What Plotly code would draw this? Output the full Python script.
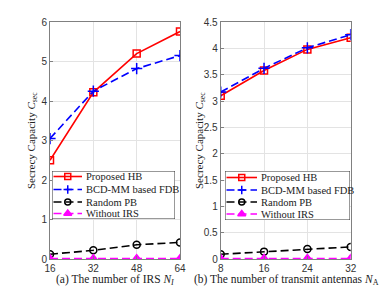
import plotly.graph_objects as go

# Data
irs_n = [16, 32, 48, 64]
hb_a = [2.5, 4.22, 5.2, 5.76]
fdb_a = [3.05, 4.25, 4.82, 5.15]
rpb_a = [0.12, 0.22, 0.36, 0.42]
noirs_a = [0.01, 0.01, 0.01, 0.01]

ant_n = [8, 16, 24, 32]
hb_b = [3.1, 3.58, 3.98, 4.2]
fdb_b = [3.17, 3.62, 4.01, 4.26]
rpb_b = [0.09, 0.14, 0.19, 0.23]
noirs_b = [0.01, 0.01, 0.01, 0.01]

names = ["Proposed HB", "BCD-MM based FDB", "Random PB", "Without IRS"]
styles = [
    dict(color="#ff0000", dash="solid", symbol="square-open", msize=7, lsize=6),
    dict(color="#0000ff", dash="8px,4px", symbol="cross-thin-open", msize=8, lsize=6),
    dict(color="#000000", dash="8px,4px", symbol="circle-open", msize=7, lsize=6),
    dict(color="#ff00ff", dash="8px,4px", symbol="triangle-up", msize=8, lsize=7),
]

# page body has an 8px default margin: figure is placed at (8, 8)
OFF = 8
W, H = 388 - OFF, 291 - OFF
def px(x): return (x - OFF) / W
def py(y): return 1 - (y - OFF) / H

SERIF = "Liberation Serif, Times New Roman, serif"
TXT = "#222222"

fig = go.Figure()
for xs, ser, xa, ya in [(irs_n, [hb_a, fdb_a, rpb_a, noirs_a], "x", "y"),
                        (ant_n, [hb_b, fdb_b, rpb_b, noirs_b], "x2", "y2")]:
    for name, ys, st in zip(names, ser, styles):
        fig.add_trace(go.Scatter(
            x=xs, y=ys, name=name, xaxis=xa, yaxis=ya, showlegend=False,
            mode="lines+markers",
            line=dict(color=st["color"], dash=st["dash"], width=1.6),
            marker=dict(symbol=st["symbol"], size=st["msize"], color=st["color"],
                        line=dict(color=st["color"], width=1.5)),
        ))

# Custom compact legends (legend-key geometry in pixel units of an overlay axis)
annotations = []
def add_legend(xa, ya, box_w, box_h, key_w, row_y, text_x):
    fig.add_trace(go.Scatter(x=[0, box_w, box_w, 0, 0], y=[0, 0, box_h, box_h, 0],
                             xaxis=xa, yaxis=ya, mode="lines", fill="toself",
                             fillcolor="white", line=dict(color="#333333", width=1),
                             showlegend=False, hoverinfo="skip"))
    for name, st, ry in zip(names, styles, row_y):
        fig.add_trace(go.Scatter(x=[1.5, key_w], y=[ry, ry], xaxis=xa, yaxis=ya, mode="lines",
                                 line=dict(color=st["color"], dash=st["dash"], width=1.6),
                                 showlegend=False, hoverinfo="skip"))
        fig.add_trace(go.Scatter(x=[(1.5 + key_w) / 2], y=[ry], xaxis=xa, yaxis=ya, mode="markers",
                                 marker=dict(symbol=st["symbol"], size=st["lsize"], color=st["color"],
                                             line=dict(color=st["color"], width=1.5)),
                                 showlegend=False, hoverinfo="skip"))
        annotations.append(dict(text=name, x=text_x, y=ry, xref=xa, yref=ya, xanchor="left",
                                yanchor="middle", showarrow=False,
                                font=dict(family=SERIF, size=10.5, color=TXT)))

add_legend("x3", "y3", 123, 48, 30, [5.5, 18.5, 31, 42.5], 32)
add_legend("x4", "y4", 125, 49, 32, [6.5, 19, 31, 43], 34)

axis_common = dict(showline=True, mirror=True, linecolor="#808080", linewidth=1,
                   showgrid=True, gridcolor="#e3e3e3", gridwidth=1, ticks="inside",
                   ticklen=3, tickcolor="#808080", zeroline=False,
                   tickfont=dict(family="Liberation Sans, Arial", size=10, color="#333333"))
hidden = dict(visible=False, showgrid=False, zeroline=False, fixedrange=True)

def label(text, x, y, angle=0, size=11):
    return dict(text=text, x=px(x), y=py(y), xref="paper", yref="paper",
                xanchor="center", yanchor="middle", textangle=angle, showarrow=False,
                font=dict(family=SERIF, size=size, color=TXT))

fig.update_layout(
    width=W, height=H, margin=dict(l=0, r=0, t=0, b=0, autoexpand=False),
    paper_bgcolor="white", plot_bgcolor="rgba(0,0,0,0)", showlegend=False,
    xaxis=dict(domain=[px(50), px(180)], range=[16, 64], tickvals=irs_n, anchor="y", **axis_common),
    yaxis=dict(domain=[py(259), py(22)], range=[0, 6], tickvals=[0, 1, 2, 3, 4, 5, 6], anchor="x", **axis_common),
    xaxis2=dict(domain=[px(220.7), px(350.7)], range=[8, 32], tickvals=ant_n, anchor="y2", **axis_common),
    yaxis2=dict(domain=[py(259), py(22)], range=[0, 4.5], tickvals=[0, 0.5, 1, 1.5, 2, 2.5, 3, 3.5, 4, 4.5],
                ticktext=["0", "0.5", "1", "1.5", "2", "2.5", "3", "3.5", "4", "4.5"], anchor="x2", **axis_common),
    xaxis3=dict(domain=[px(52), px(175)], range=[0, 123], anchor="y3", **hidden),
    yaxis3=dict(domain=[py(219), py(171)], range=[48, 0], anchor="x3", **hidden),
    xaxis4=dict(domain=[px(225), px(350)], range=[0, 125], anchor="y4", **hidden),
    yaxis4=dict(domain=[py(220), py(171)], range=[49, 0], anchor="x4", **hidden),
    annotations=annotations + [
        label("Secrecy Capacity <i>C</i><sub>sec</sub>", 32, 141, -90),
        label("Secrecy Capacity <i>C</i><sub>sec</sub>", 200, 141, -90),
        label("(a) The number of IRS <i>N</i><sub><i>I</i></sub>", 115, 280, size=11.5),
        label("(b) The number of transmit antennas <i>N</i><sub>A</sub>", 286, 280, size=11.5),
    ],
)

fig.write_html("out.html")
